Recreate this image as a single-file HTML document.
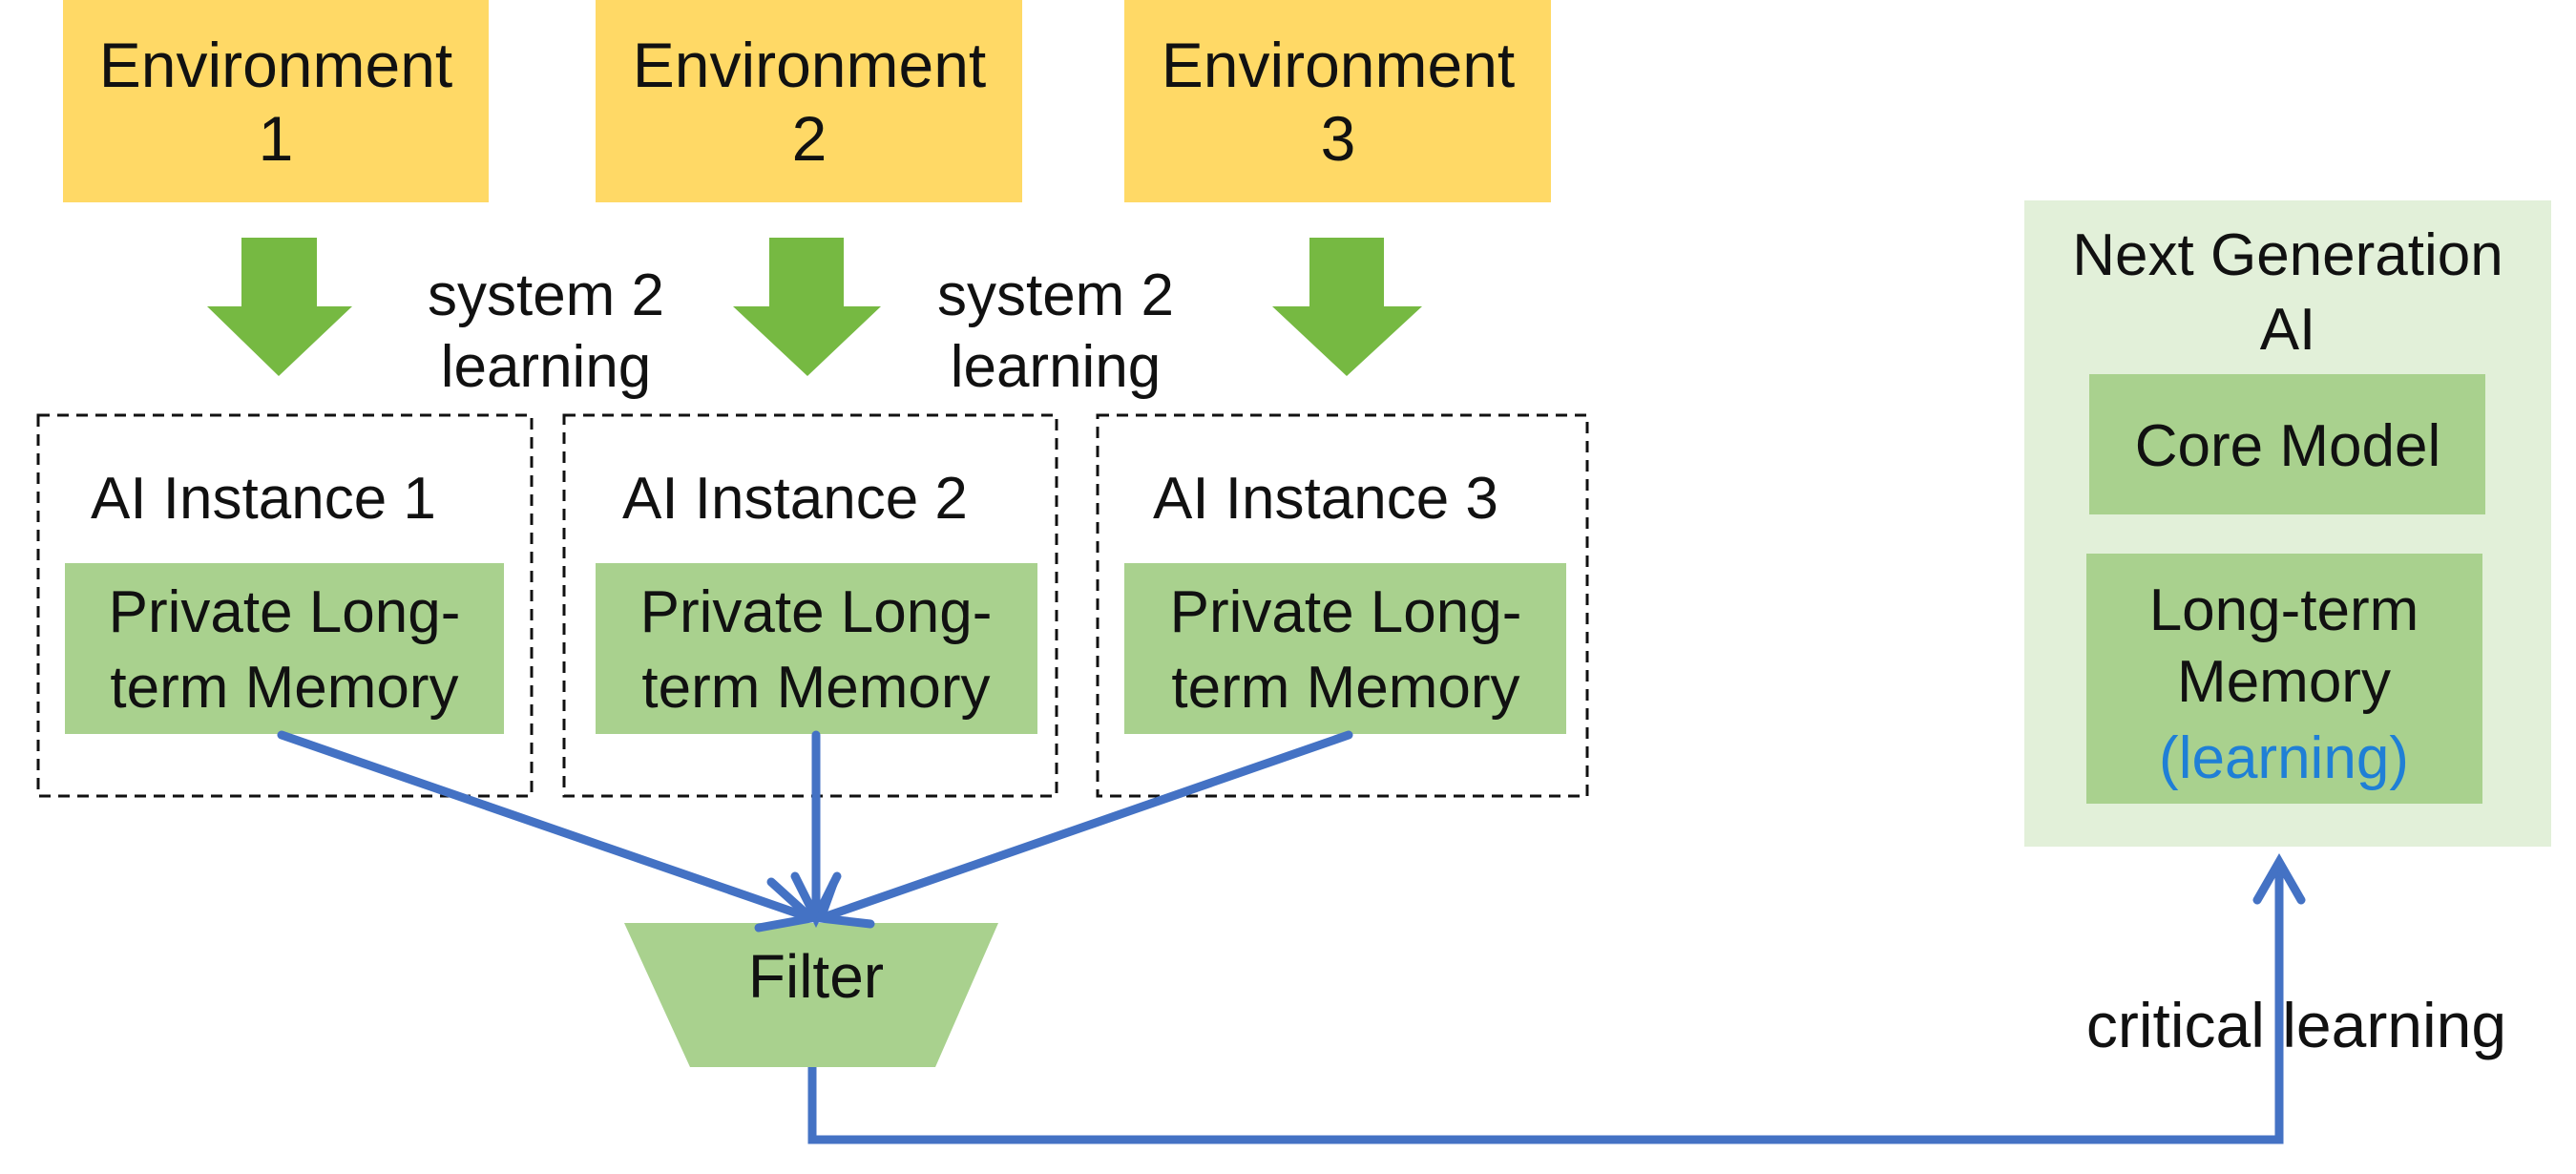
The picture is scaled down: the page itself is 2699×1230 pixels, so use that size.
<!DOCTYPE html>
<html><head><meta charset="utf-8"><style>
html,body{margin:0;padding:0;background:#fff;width:2699px;height:1230px;overflow:hidden}
text{font-family:"Liberation Sans",sans-serif;fill:#111}
</style></head><body>
<svg width="2699" height="1230" viewBox="0 0 2699 1230" xmlns="http://www.w3.org/2000/svg">
<!-- Environments -->
<g fill="#FFD966">
<rect x="66" y="0" width="446" height="212"/>
<rect x="624" y="0" width="447" height="212"/>
<rect x="1178" y="0" width="447" height="212"/>
</g>
<g font-size="66" text-anchor="middle">
<text x="289" y="91">Environment</text><text x="289" y="168">1</text>
<text x="848" y="91">Environment</text><text x="848" y="168">2</text>
<text x="1402" y="91">Environment</text><text x="1402" y="168">3</text>
</g>
<!-- green arrows -->
<g fill="#76B942">
<polygon points="253,249 332,249 332,321 369,321 292,394 217,321 253,321"/>
<polygon points="806,249 884,249 884,321 923,321 846,394 768,321 806,321"/>
<polygon points="1372,249 1450,249 1450,321 1490,321 1411,394 1333,321 1372,321"/>
</g>
<g font-size="62" text-anchor="middle">
<text x="572" y="330">system 2</text><text x="572" y="405">learning</text>
<text x="1106" y="330">system 2</text><text x="1106" y="405">learning</text>
</g>
<!-- dashed boxes -->
<g fill="none" stroke="#111" stroke-width="3" stroke-dasharray="12,8">
<rect x="40" y="435" width="517" height="399"/>
<rect x="591" y="435" width="516" height="399"/>
<rect x="1150" y="435" width="513" height="399"/>
</g>
<g font-size="62">
<text x="95" y="543">AI Instance 1</text>
<text x="652" y="543">AI Instance 2</text>
<text x="1208" y="543">AI Instance 3</text>
</g>
<g fill="#A9D18E">
<rect x="68" y="590" width="460" height="179"/>
<rect x="624" y="590" width="463" height="179"/>
<rect x="1178" y="590" width="463" height="179"/>
</g>
<g font-size="62" text-anchor="middle">
<text x="298" y="662">Private Long-</text><text x="298" y="741">term Memory</text>
<text x="855" y="662">Private Long-</text><text x="855" y="741">term Memory</text>
<text x="1410" y="662">Private Long-</text><text x="1410" y="741">term Memory</text>
</g>
<!-- filter -->
<polygon points="654,967 1046,967 980,1118 723,1118" fill="#A9D18E"/>
<text x="855" y="1045" font-size="64" text-anchor="middle">Filter</text>
<!-- blue connectors -->
<g stroke="#4472C4" stroke-width="9" fill="none" stroke-linecap="round" stroke-linejoin="miter">
<line x1="295" y1="770" x2="850" y2="962"/>
<polyline points="808,924 850,962 795,972"/>
<line x1="855" y1="770" x2="855" y2="962"/>
<polyline points="833,918 855,962 877,918"/>
<line x1="1413" y1="770" x2="860" y2="962"/>
<polyline points="873,926 860,962 912,968"/>
<polyline points="851,1118 851,1194 2388,1194 2388,903" stroke-linecap="butt"/>
<polyline points="2365,943 2388,903 2411,943"/>
</g>
<!-- next gen -->
<rect x="2121" y="210" width="552" height="677" fill="#E2F0D9"/>
<g font-size="62" text-anchor="middle">
<text x="2397" y="288">Next Generation</text>
<text x="2397" y="366">AI</text>
</g>
<rect x="2189" y="392" width="415" height="147" fill="#A9D18E"/>
<text x="2397" y="488" font-size="62" text-anchor="middle">Core Model</text>
<rect x="2186" y="580" width="415" height="262" fill="#A9D18E"/>
<g font-size="62" text-anchor="middle">
<text x="2393" y="660">Long-term</text>
<text x="2393" y="735">Memory</text>
<text x="2393" y="815" style="fill:#1F7FD6">(learning)</text>
</g>
<text x="2406" y="1097" font-size="66" text-anchor="middle">critical learning</text>
</svg>
</body></html>
